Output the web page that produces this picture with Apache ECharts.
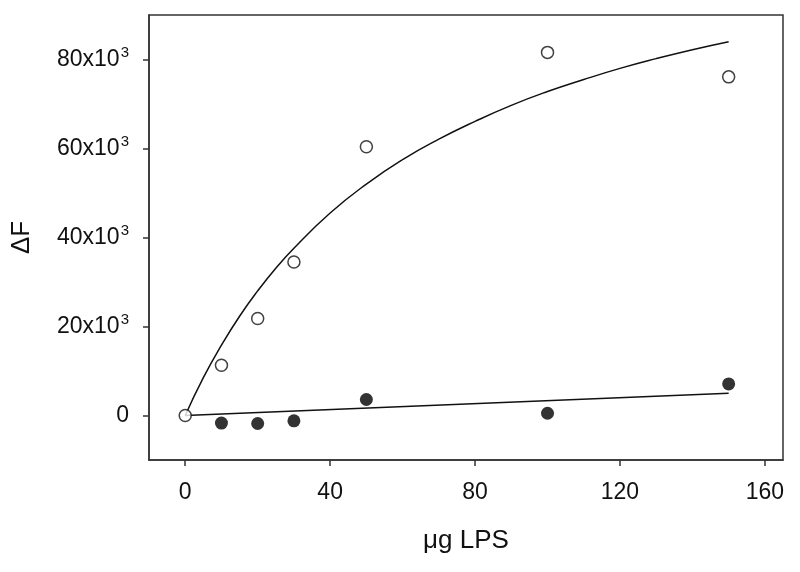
<!DOCTYPE html>
<html>
<head>
<meta charset="utf-8">
<script src="https://cdn.jsdelivr.net/npm/echarts@6/dist/echarts.min.js"></script>
<style>html,body{margin:0;padding:0;background:#fff}#c{width:800px;height:572px}</style>
</head>
<body>
<div id="c"></div>
<script>
// x ticks and y ticks
const xTicks = [0, 40, 80, 120, 160];
const yTicks = [0, 20000, 40000, 60000, 80000];
// open circles (measured)
const openX = [0, 10, 20, 30, 50, 100, 150];
const openY = [0, 11300, 21800, 34500, 60400, 81600, 76100];
// filled circles (measured)
const filledX = [10, 20, 30, 50, 100, 150];
const filledY = [-1700, -1800, -1200, 3600, 500, 7100];
// upper fitted curve
const fitX = [0, 5, 10, 15, 20, 25, 30, 40, 50, 60, 70, 80, 90, 100, 110, 120, 130, 140, 150];
const fitUpper = [0, 8500, 15800, 22300, 28000, 33100, 37600, 45500, 52000, 57500, 62100, 66100, 69700, 72800, 75500, 78000, 80200, 82200, 84000];
// lower fitted line
const lowX = [0, 150];
const lowY = [0, 5000];

const zip = (a, b) => a.map((v, i) => [v, b[i]]);
const FONT = '"Liberation Sans", Arial, sans-serif';
const chart = echarts.init(document.getElementById('c'), null, {renderer: 'canvas'});
chart.setOption({
  animation: false,
  backgroundColor: '#fff',
  grid: {left: 149, right: 17, top: 15, bottom: 112, show: true, borderColor: '#333', borderWidth: 1.5, backgroundColor: 'transparent'},
  xAxis: {
    type: 'value', min: -10, max: 165,
    name: 'μg LPS', nameLocation: 'middle', nameGap: 68,
    nameTextStyle: {fontFamily: FONT, fontSize: 26, color: '#111'},
    axisLine: {show: true, onZero: false, lineStyle: {color: '#333', width: 1.5}},
    axisTick: {show: true, length: 6, customValues: xTicks, lineStyle: {color: '#333', width: 1.5}},
    axisLabel: {customValues: xTicks, margin: 21, fontFamily: FONT, fontSize: 23, color: '#111'},
    splitLine: {show: false}
  },
  yAxis: {
    type: 'value', min: -10000, max: 90000,
    name: 'ΔF', nameLocation: 'middle', nameGap: 114, nameRotate: 90,
    nameTextStyle: {fontFamily: FONT, fontSize: 26, color: '#111'},
    axisLine: {show: true, onZero: false, lineStyle: {color: '#333', width: 1.5}},
    axisTick: {show: true, length: 6, customValues: yTicks, lineStyle: {color: '#333', width: 1.5}},
    axisLabel: {
      customValues: yTicks, margin: 20, fontFamily: FONT, fontSize: 23, color: '#111',
      formatter: v => v === 0 ? '{n|0}' : '{n|' + (v / 1000) + 'x10}{s|3}',
      rich: {
        n: {fontFamily: FONT, fontSize: 23, color: '#111', lineHeight: 28},
        s: {fontFamily: FONT, fontSize: 15, color: '#111', verticalAlign: 'top', lineHeight: 28, padding: [0, 0, 0, 1]}
      }
    },
    splitLine: {show: false}
  },
  series: [
    {type: 'line', data: zip(fitX, fitUpper), smooth: true, showSymbol: false, symbol: 'none',
     lineStyle: {color: '#111', width: 1.5}, z: 2},
    {type: 'line', data: zip(lowX, lowY), showSymbol: false, symbol: 'none',
     lineStyle: {color: '#111', width: 1.5}, z: 2},
    {type: 'scatter', data: zip(openX, openY), symbol: 'circle', symbolSize: 12,
     itemStyle: {color: '#fff', borderColor: '#111', borderWidth: 1.5}, z: 3},
    {type: 'scatter', data: zip(filledX, filledY), symbol: 'circle', symbolSize: 13,
     itemStyle: {color: '#000'}, z: 3}
  ]
});
</script>
</body>
</html>
